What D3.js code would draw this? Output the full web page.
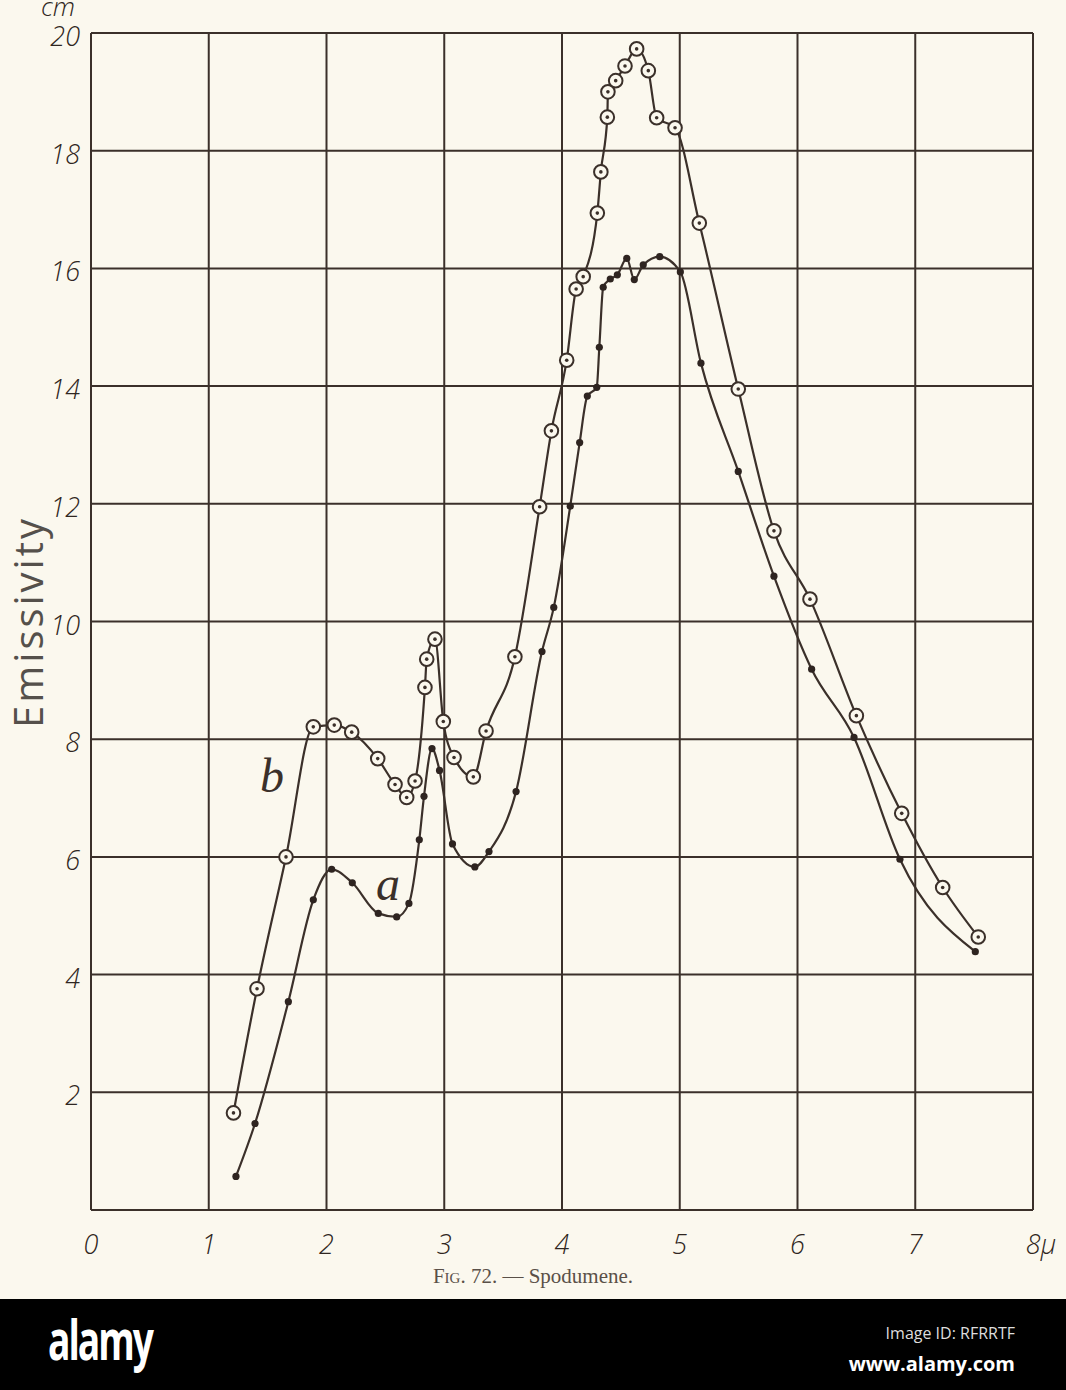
<!DOCTYPE html>
<html>
<head>
<meta charset="utf-8">
<style>
  body { margin: 0; background: #fbf8ee; }
  svg { display: block; }
  .tick-label { font-family: "Open Sans", "DejaVu Sans", sans-serif; font-style: italic; font-weight: 300; fill: #2f2621; }
</style>
</head>
<body>
<svg id="chart" width="1066" height="1390"></svg>
<script src="https://d3js.org/d3.v7.min.js"></script>
<script>

// wavelength (micron) and emissivity (cm)
var curveBx = [1.21, 1.41, 1.656, 1.888, 2.066, 2.214, 2.435, 2.582, 2.681, 2.752, 2.836, 2.851, 2.921, 2.992, 3.083, 3.247, 3.355, 3.60, 3.81, 3.91, 4.04, 4.12, 4.18, 4.30, 4.33, 4.385, 4.39, 4.456, 4.535, 4.634, 4.733, 4.804, 4.96, 5.166, 5.497, 5.80, 6.106, 6.50, 6.885, 7.233, 7.535]
var curveBy = [1.65, 3.76, 6.0, 8.21, 8.24, 8.12, 7.67, 7.23, 7.01, 7.29, 8.88, 9.36, 9.70, 8.30, 7.69, 7.36, 8.14, 9.40, 11.95, 13.24, 14.44, 15.65, 15.86, 16.94, 17.64, 18.57, 19.0, 19.19, 19.44, 19.73, 19.36, 18.56, 18.39, 16.77, 13.95, 11.54, 10.38, 8.40, 6.74, 5.48, 4.64]

var curveAx = [1.231, 1.393, 1.676, 1.888, 2.044, 2.219, 2.44, 2.596, 2.70, 2.788, 2.828, 2.896, 2.96, 3.07, 3.26, 3.38, 3.61, 3.83, 3.93, 4.07, 4.15, 4.215, 4.295, 4.317, 4.35, 4.41, 4.47, 4.55, 4.614, 4.69, 4.83, 5.005, 5.18, 5.497, 5.80, 6.12, 6.48, 6.87, 7.51]
var curveAy = [0.57, 1.47, 3.54, 5.27, 5.79, 5.56, 5.04, 4.98, 5.21, 6.29, 7.03, 7.84, 7.47, 6.22, 5.83, 6.09, 7.11, 9.49, 10.24, 11.96, 13.04, 13.83, 13.98, 14.66, 15.68, 15.82, 15.89, 16.17, 15.81, 16.06, 16.2, 15.94, 14.39, 12.55, 10.77, 9.19, 8.03, 5.96, 4.39]

var xTicks = [0, 1, 2, 3, 4, 5, 6, 7, 8]
var yTicks = [2, 4, 6, 8, 10, 12, 14, 16, 18, 20]

var ink = "#3b302a"

var svg = d3.select("#chart")

svg.append("rect").attr("width", 1066).attr("height", 1390).attr("fill", "#fbf8ee")

var x = d3.scaleLinear().domain([0, 8]).range([91, 1033])
var y = d3.scaleLinear().domain([0, 20]).range([1210, 33])

var grid = svg.append("g").attr("stroke", ink).attr("stroke-width", 2).attr("fill", "none")

// vertical gridlines
grid.selectAll("line.v")
  .data(xTicks)
  .enter().append("line")
  .attr("class", "v")
  .attr("x1", d => x(d)).attr("x2", d => x(d))
  .attr("y1", y(20)).attr("y2", y(0))

// horizontal gridlines
grid.selectAll("line.h")
  .data([0].concat(yTicks))
  .enter().append("line")
  .attr("class", "h")
  .attr("x1", x(0)).attr("x2", x(8))
  .attr("y1", d => y(d)).attr("y2", d => y(d))

// tick labels
svg.selectAll("text.xl")
  .data(xTicks)
  .enter().append("text")
  .attr("class", "tick-label")
  .attr("x", d => x(d) + (d == 8 ? 8 : 0))
  .attr("y", 1254)
  .attr("text-anchor", "middle")
  .attr("font-size", 27)
  .text(d => d == 8 ? "8\u03bc" : d)

svg.selectAll("text.yl")
  .data(yTicks)
  .enter().append("text")
  .attr("class", "tick-label")
  .attr("x", 80)
  .attr("y", d => y(d) + 13)
  .attr("text-anchor", "end")
  .attr("font-size", 27)
  .text(d => d)

svg.append("text")
  .attr("class", "tick-label")
  .attr("x", 58).attr("y", 16)
  .attr("text-anchor", "middle")
  .attr("font-size", 26)
  .text("cm")

svg.append("text")
  .attr("transform", "translate(43,622) rotate(-90)")
  .attr("text-anchor", "middle")
  .attr("font-family", "'Open Sans', 'DejaVu Sans', sans-serif")
  .attr("font-size", 40)
  .attr("letter-spacing", 3)
  .attr("fill", "#55504b")
  .text("Emissivity")

// curves
var line = d3.line()
  .x(d => x(d[0]))
  .y(d => y(d[1]))
  .curve(d3.curveMonotoneX)

var ptsB = d3.zip(curveBx, curveBy)
var ptsA = d3.zip(curveAx, curveAy)

svg.append("path").datum(ptsA)
  .attr("fill", "none").attr("stroke", ink).attr("stroke-width", 2.2)
  .attr("d", line)

svg.append("path").datum(ptsB)
  .attr("fill", "none").attr("stroke", ink).attr("stroke-width", 2.2)
  .attr("d", line)

svg.selectAll("circle.a")
  .data(ptsA)
  .enter().append("circle")
  .attr("class", "a")
  .attr("cx", d => x(d[0])).attr("cy", d => y(d[1]))
  .attr("r", 3.6)
  .attr("fill", "#2e2420")

svg.selectAll("circle.b")
  .data(ptsB)
  .enter().append("circle")
  .attr("class", "b")
  .attr("cx", d => x(d[0])).attr("cy", d => y(d[1]))
  .attr("r", 6.8)
  .attr("fill", "#fbf8ee")
  .attr("stroke", ink)
  .attr("stroke-width", 2)

svg.selectAll("circle.bc")
  .data(ptsB)
  .enter().append("circle")
  .attr("class", "bc")
  .attr("cx", d => x(d[0])).attr("cy", d => y(d[1]))
  .attr("r", 1.8)
  .attr("fill", ink)

// curve names
svg.append("text")
  .attr("x", 272).attr("y", 792)
  .attr("text-anchor", "middle")
  .attr("font-family", "'Liberation Serif', 'DejaVu Serif', serif")
  .attr("font-style", "italic")
  .attr("font-size", 48)
  .attr("fill", ink)
  .text("b")

svg.append("text")
  .attr("x", 388).attr("y", 900)
  .attr("text-anchor", "middle")
  .attr("font-family", "'Liberation Serif', 'DejaVu Serif', serif")
  .attr("font-style", "italic")
  .attr("font-size", 48)
  .attr("fill", ink)
  .text("a")

// caption
var cap = svg.append("text")
  .attr("x", 533).attr("y", 1283)
  .attr("text-anchor", "middle")
  .attr("font-family", "'Liberation Serif', 'DejaVu Serif', serif")
  .attr("font-size", 21)
  .attr("fill", "#5a5048")
cap.append("tspan").attr("font-variant", "small-caps").text("Fig. 72. \u2014 ")
cap.append("tspan").text("Spodumene.")

// stock banner
svg.append("rect").attr("x", 0).attr("y", 1299).attr("width", 1066).attr("height", 91).attr("fill", "#000")

svg.append("text")
  .attr("x", 48).attr("y", 1360)
  .attr("font-family", "'Open Sans', 'DejaVu Sans', sans-serif")
  .attr("font-weight", 700)
  .attr("font-size", 56)
  .attr("letter-spacing", -3)
  .attr("textLength", 104)
  .attr("lengthAdjust", "spacingAndGlyphs")
  .attr("fill", "#fff")
  .text("alamy")

svg.append("text")
  .attr("x", 1015).attr("y", 1339)
  .attr("text-anchor", "end")
  .attr("font-family", "'Open Sans', 'DejaVu Sans', sans-serif")
  .attr("font-size", 16)
  .attr("fill", "#ddd")
  .text("Image ID: RFRRTF")

svg.append("text")
  .attr("x", 1015).attr("y", 1371)
  .attr("text-anchor", "end")
  .attr("font-family", "'Open Sans', 'DejaVu Sans', sans-serif")
  .attr("font-weight", 700)
  .attr("font-size", 20)
  .attr("fill", "#fff")
  .text("www.alamy.com")

</script>
</body>
</html>
